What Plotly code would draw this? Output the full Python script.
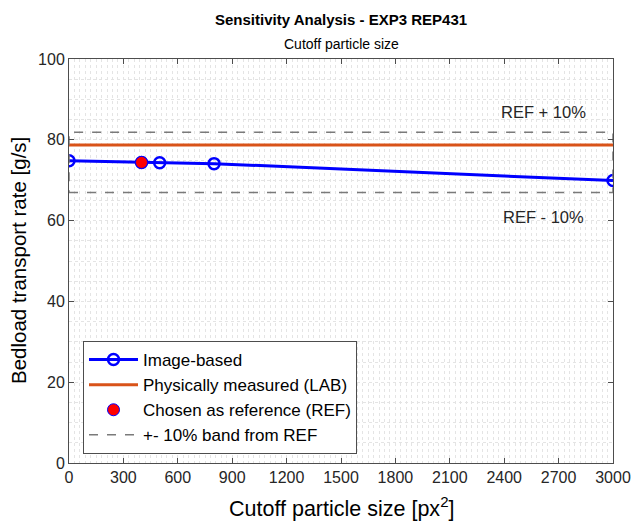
import plotly.graph_objects as go

cutoff = [0, 400, 500, 800, 3000]
rate = [74.8, 74.4, 74.3, 74.1, 69.9]
ref_x = [400]
ref_y = [74.4]
lab_value = 78.7
band_pct = 0.10
x_ticks = list(range(0, 3001, 300))
y_ticks = list(range(0, 101, 20))

ref = ref_y[0]
lo = ref * (1 - band_pct)
hi = ref * (1 + band_pct)
xmin, xmax = 0, 3000

FONT = "Liberation Sans, Arial, Helvetica, sans-serif"
AX = "#4d4d4d"
GRID = "#e4e4e4"

fig = go.Figure()

fig.add_trace(go.Scatter(
    x=cutoff, y=rate, mode="lines+markers", name="Image-based",
    line=dict(color="#0000ff", width=3),
    marker=dict(symbol="circle-open", size=11, color="#0000ff", line=dict(width=2.5, color="#0000ff")),
))
fig.add_trace(go.Scatter(
    x=[xmin, xmax], y=[lab_value, lab_value], mode="lines", name="Physically measured (LAB)",
    line=dict(color="#D95319", width=3),
))
fig.add_trace(go.Scatter(
    x=ref_x, y=ref_y, mode="markers", name="Chosen as reference (REF)",
    marker=dict(symbol="circle", size=12, color="#ff0000", line=dict(width=1, color="#0000ff")),
))
fig.add_trace(go.Scatter(
    x=[xmin, xmax, xmax, xmin, xmin], y=[lo, lo, hi, hi, lo], mode="lines",
    name="+- 10% band from REF",
    line=dict(color="#7a7a7a", width=1.5, dash="dash"),
))

fig.add_annotation(x=2617, y=86.9, text="REF + 10%", showarrow=False,
                   font=dict(family=FONT, size=16.5, color="#262626"))
fig.add_annotation(x=2617, y=61.0, text="REF - 10%", showarrow=False,
                   font=dict(family=FONT, size=16.5, color="#262626"))

fig.add_annotation(xref="paper", yref="paper", x=0.5, y=1 + (59 - 20) / 404,
                   text="<b>Sensitivity Analysis - EXP3 REP431</b>", showarrow=False,
                   font=dict(family=FONT, size=15, color="#000000"), yanchor="middle")
fig.add_annotation(xref="paper", yref="paper", x=0.5, y=1 + (59 - 44) / 404,
                   text="Cutoff particle size", showarrow=False,
                   font=dict(family=FONT, size=14, color="#000000"), yanchor="middle")
fig.add_annotation(xref="paper", yref="paper", x=0.5, y=(463 - 507) / 404,
                   text="Cutoff particle size [px<sup>2</sup>]", showarrow=False,
                   font=dict(family=FONT, size=21.5, color="#000000"), yanchor="middle")
fig.add_annotation(xref="paper", yref="paper", x=(18 - 69) / 544, y=0.5,
                   text="Bedload transport rate [g/s]", showarrow=False, textangle=-90,
                   font=dict(family=FONT, size=20.5, color="#000000"), xanchor="center", yanchor="middle")

axis_common = dict(
    showline=True, linecolor=AX, linewidth=1, mirror="ticks",
    ticks="inside", ticklen=5, tickcolor=AX, tickwidth=1,
    showgrid=True, gridcolor=GRID, griddash="dot", gridwidth=1,
    zeroline=False, automargin=False,
    tickfont=dict(family=FONT, size=16, color="#262626"),
)

fig.update_layout(
    width=632, height=528,
    margin=dict(l=69, r=19, t=59, b=65, autoexpand=False),
    paper_bgcolor="white", plot_bgcolor="white",
    font=dict(family=FONT, color="#262626"),
    showlegend=True,
    legend=dict(x=(83 - 69) / 544, y=9 / 404, xanchor="left", yanchor="bottom",
                bgcolor="white", bordercolor=AX, borderwidth=1,
                font=dict(family=FONT, size=17, color="#000000"),
                tracegroupgap=0, itemwidth=49),
    xaxis=dict(range=[xmin, xmax], tickvals=x_ticks,
               minor=dict(dtick=30, showgrid=True, gridcolor=GRID, griddash="dot", gridwidth=1, ticks=""),
               **axis_common),
    yaxis=dict(range=[0, 100], tickvals=y_ticks,
               minor=dict(dtick=5, showgrid=True, gridcolor=GRID, griddash="dot", gridwidth=1, ticks=""),
               **axis_common),
)

fig.write_html("out.html", config={"displayModeBar": False},
               post_script="document.body.style.margin='0px';document.body.style.overflow='hidden';")
